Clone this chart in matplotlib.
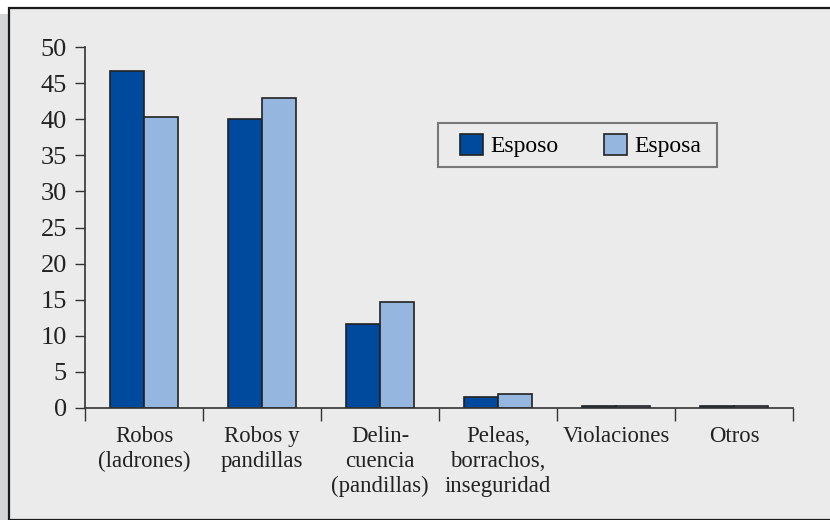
import numpy as np
import matplotlib.pyplot as plt
from matplotlib.patches import Rectangle

plt.rcParams['font.family'] = ['Liberation Serif', 'DejaVu Serif']

# porcentaje de respuestas por tipo de problema
categorias = ['Robos\n(ladrones)', 'Robos y\npandillas', 'Delin-\ncuencia\n(pandillas)',
              'Peleas,\nborrachos,\ninseguridad', 'Violaciones', 'Otros']
esposo = [46.7, 40.0, 11.6, 1.5, 0.3, 0.3]
esposa = [40.3, 42.9, 14.7, 1.9, 0.3, 0.3]

fondo = '#ebebeb'
azul = '#004a9e'
celeste = '#95b6df'
texto = '#222222'

fig = plt.figure(figsize=(8.3, 5.2), dpi=100)
fig.patch.set_facecolor('white')

# marco del recuadro con sombra a la izquierda
fig.patches.append(Rectangle((0, 0), 8 / 830, 1 - 14 / 520, transform=fig.transFigure,
                             facecolor='#d3d4d6', edgecolor='none', zorder=-10))
fig.patches.append(Rectangle((8.5 / 830, 0), 1, 1 - 7.5 / 520, transform=fig.transFigure,
                             facecolor=fondo, edgecolor='#1a1a1a', linewidth=1.6, zorder=-10))

ax = fig.add_axes([85 / 830, 1 - 408 / 520, 708 / 830, 361 / 520])
ax.set_facecolor('none')

x = np.arange(len(categorias))
ancho = 0.284
ax.bar(x - ancho / 2, esposo, ancho, color=azul, edgecolor=texto, linewidth=1.2, label='Esposo')
ax.bar(x + ancho / 2, esposa, ancho, color=celeste, edgecolor=texto, linewidth=1.2, label='Esposa')

ax.set_xlim(-0.5, len(categorias) - 0.5)
ax.set_ylim(0, 50)
ax.set_yticks(range(0, 51, 5))

ax.set_xticks(np.arange(len(categorias) + 1) - 0.5)
ax.set_xticklabels([])
ax.set_xticks(x, minor=True)
ax.set_xticklabels(categorias, minor=True, fontsize=16.4, color=texto, linespacing=1.25)
ax.tick_params(axis='x', which='major', length=9, width=1, color='#333333', direction='out')
ax.tick_params(axis='x', which='minor', length=0, pad=13)
ax.tick_params(axis='y', length=7.5, width=1, color='#333333', pad=5.5, labelsize=19, labelcolor=texto)

for lado in ['top', 'right']:
    ax.spines[lado].set_visible(False)
for lado in ['left', 'bottom']:
    ax.spines[lado].set_color('#333333')
    ax.spines[lado].set_linewidth(1.2)

# leyenda sin marco propio; el recuadro se dibuja aparte
leg = ax.legend(loc='upper left', bbox_to_anchor=((460 - 85) / 708, (408 - 134) / 361),
                ncol=2, fontsize=17, frameon=False, handlelength=0.97, handleheight=0.97,
                handletextpad=0.3, columnspacing=1.95, borderpad=0, borderaxespad=0)
ax.add_patch(Rectangle(((438 - 85) / 708, (408 - 167) / 361), 279 / 708, 44 / 361,
                       transform=ax.transAxes, facecolor='none', edgecolor='#777777',
                       linewidth=1.5, clip_on=False))

plt.savefig('out.png', dpi=100)
